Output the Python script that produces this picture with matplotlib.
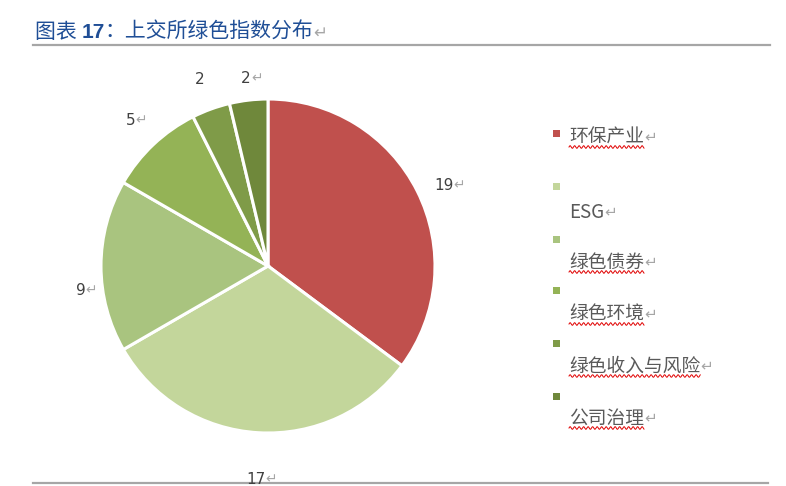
import numpy as np
import matplotlib
matplotlib.use("Agg")
import matplotlib.pyplot as plt
from matplotlib.patches import Rectangle
from matplotlib.lines import Line2D

plt.rcParams['font.family'] = ['Noto Sans CJK SC', 'DejaVu Sans']

categories = ['环保产业', 'ESG', '绿色债券', '绿色环境', '绿色收入与风险', '公司治理']
values = [19, 17, 9, 5, 2, 2]
value_labels = ['19↵', '17↵', '9↵', '5↵', '2', '2↵']
colors = ['#C0504D', '#C3D69B', '#A9C47F', '#94B356', '#7F9B48', '#6F883B']
title_parts = ['图表 ', '17', '：上交所绿色指数分布']

W, H = 786, 486
fig = plt.figure(figsize=(W / 100, H / 100), dpi=100)

def fx(px):
    return px / W

def fy(py):
    return 1 - py / H

# Pie axes
cx, cy, R = 268, 266, 167
ax = fig.add_axes([fx(cx - R), fy(cy + R), 2 * R / W, 2 * R / H])
wedges, _ = ax.pie(values, colors=colors, startangle=90, counterclock=False,
                   wedgeprops=dict(edgecolor='white', linewidth=2.2))
ax.set_xlim(-1, 1)
ax.set_ylim(-1, 1)
ax.set_aspect('equal')
ax.axis('off')

renderer = fig.canvas.get_renderer()

def text_with_mark(x, y, s, color, size):
    mark = s.endswith('↵')
    body = s[:-1] if mark else s
    t = fig.text(x, y, body, color=color, fontsize=size,
                 ha='center', va='center', family=['DejaVu Sans'])
    if mark:
        bb = t.get_window_extent(renderer)
        fig.text(bb.x1 / W, (bb.y0 + bb.y1) / 2 / H, '↵', color='#A6A6A6',
                 fontsize=size * 0.9, ha='left', va='center', family=['DejaVu Sans'])
    return t

label_r = [1.16, 1.28, 1.13, 1.20, 1.19, 1.13]
label_dang = [-2.0, 0, 7.5, 0, 0, 0]
for w, lab, r, da in zip(wedges, value_labels, label_r, label_dang):
    th = np.deg2rad((w.theta1 + w.theta2) / 2 + da)
    x, y = r * np.cos(th), r * np.sin(th)
    disp = ax.transData.transform((x, y))
    text_with_mark(disp[0] / W, disp[1] / H, lab, '#404040', 11)

# Title
title_color = '#1F4E96'
x0 = 35
ty0 = 32
t1 = fig.text(fx(x0), fy(ty0), title_parts[0], color=title_color, fontsize=15, va='center', ha='left')
bb = t1.get_window_extent(renderer)
t2 = fig.text(bb.x1 / W, fy(ty0), title_parts[1], color=title_color, fontsize=15,
              va='center', ha='left', fontweight='bold', family=['Liberation Sans'])
bb = t2.get_window_extent(renderer)
t3 = fig.text(bb.x1 / W, fy(ty0), title_parts[2], color=title_color, fontsize=15, va='center', ha='left')
bb = t3.get_window_extent(renderer)
fig.text(bb.x1 / W, fy(ty0 + 1), '↵', color='#A6A6A6', fontsize=12, va='center', ha='left', family=['DejaVu Sans'])

# Rules
fig.add_artist(Line2D([fx(33), fx(770)], [fy(45), fy(45)], color='#A6A6A6', lw=1.6))
fig.add_artist(Line2D([fx(33), fx(768)], [fy(483), fy(483)], color='#A6A6A6', lw=1.6))

# Legend (manual)
marker_y = [133, 186, 240, 290, 343, 396]
text_y = [137, 212, 262, 314, 366, 418]
for cat, col, my, ty in zip(categories, colors, marker_y, text_y):
    fig.add_artist(Rectangle((fx(553), fy(my + 3.5)), 7 / W, 7 / H, transform=fig.transFigure,
                             facecolor=col, edgecolor='none'))
    t = fig.text(fx(569), fy(ty), cat, color='#595959', fontsize=13.5, ha='left', va='center')
    bb = t.get_window_extent(renderer)
    fig.text(bb.x1 / W, (bb.y0 + bb.y1) / 2 / H, '↵', color='#A6A6A6', fontsize=11,
             ha='left', va='center', family=['DejaVu Sans'])
    if cat != 'ESG':
        xs = np.linspace(bb.x0, bb.x1, 200)
        ys = bb.y0 + 0.5 + 1.3 * np.sin((xs - bb.x0) / 4.5 * 2 * np.pi)
        fig.add_artist(Line2D(xs / W, ys / H, color='#E00000', lw=0.7))

fig.savefig('out.png', dpi=100)
